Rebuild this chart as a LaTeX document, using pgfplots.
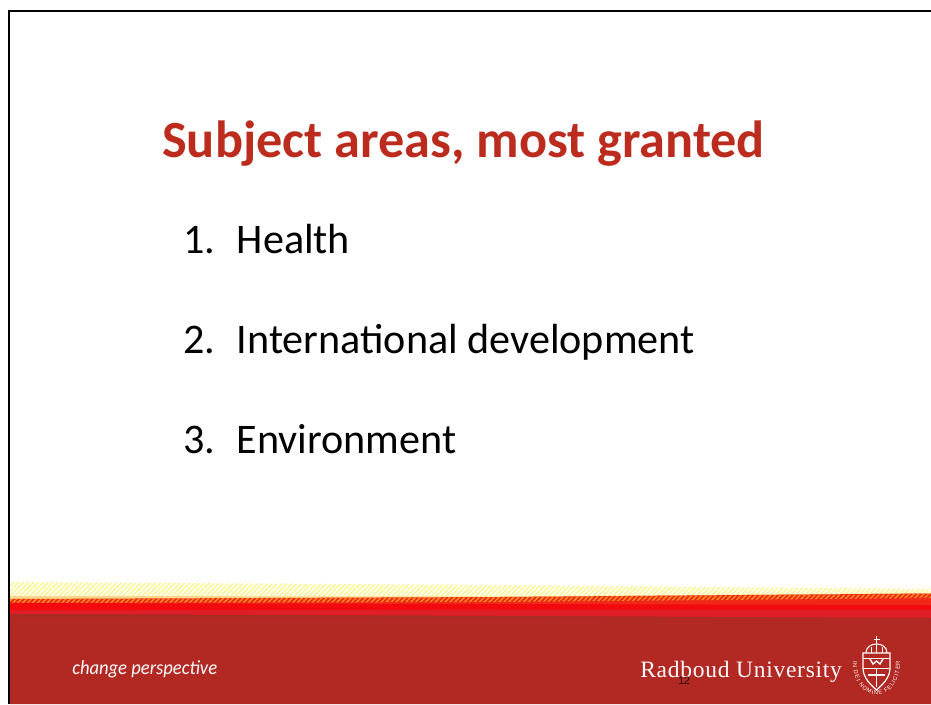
\documentclass[border=0pt]{standalone}
\usepackage{pgfplots}
\pgfplotsset{compat=1.18}
\usepackage{fontspec}
\setmainfont{Carlito}
\newfontfamily\serifuni[LetterSpace=3.2]{Liberation Serif}
\newfontfamily\mottof{Liberation Sans}
\newfontfamily\arialf{Liberation Sans}
\usetikzlibrary{patterns.meta,decorations.text}
\definecolor{footred}{HTML}{B22822}
\definecolor{footdark}{HTML}{AA2A24}
\definecolor{titlered}{HTML}{BC2C1E}
\definecolor{bandred}{HTML}{F20A0E}
\definecolor{bandor}{HTML}{F0281A}
\definecolor{bandcr}{HTML}{E01E26}
\definecolor{paleor}{HTML}{FBD58C}
\definecolor{hatchy}{HTML}{FBF58C}
\definecolor{hatchb}{HTML}{F7931E}
\begin{document}
\begin{tikzpicture}
\begin{axis}[
  width=698.25pt,height=528pt,scale only axis,
  xmin=0,xmax=931,ymin=0,ymax=704,y dir=reverse,
  hide axis,clip=true]
% page background, which also fixes the picture's extent
\fill[white] (axis cs:0,0) rectangle (axis cs:931,704);
% yellow hatched strip
\addplot[pattern={Lines[angle=45,distance=2.6pt,line width=1.1pt]},pattern color=hatchy,draw=none]
  coordinates {(10,582) (500,585) (931,589) (931,594) (500,597) (10,597)} -- cycle;
% pale line
\addplot[fill=paleor,draw=none] coordinates {(10,596) (500,596.5) (931,593) (931,595) (500,598) (10,599)} -- cycle;
% red bands
\addplot[fill=bandor,draw=none] coordinates {(10,599) (500,597) (931,593.5) (931,606) (500,606) (10,604)} -- cycle;
\addplot[pattern={Lines[angle=45,distance=2.6pt,line width=1pt]},pattern color=hatchb,draw=none]
  coordinates {(10,599) (500,597) (931,594) (931,598) (500,602) (10,603)} -- cycle;
\addplot[fill=bandred,draw=none] coordinates {(10,603) (500,604) (931,605) (931,610) (500,610) (10,611)} -- cycle;
\addplot[fill=bandcr,draw=none] coordinates {(10,610.5) (500,609.5) (931,609.5) (931,618.5) (500,616.5) (10,614.5)} -- cycle;
% footer
\addplot[fill=footred,draw=none] coordinates {(10,614) (500,616) (931,618) (931,704) (10,704)} -- cycle;
\addplot[fill=footdark,draw=none] coordinates {(10,614) (500,616) (931,618) (931,618.5) (500,618) (10,617)} -- cycle;
% frame
\addplot[black,line width=1.6pt] coordinates {(9,704) (9,11) (931,11)};
% texts
\node[anchor=base west,text=titlered,font=\fontsize{39.2pt}{46pt}\selectfont\bfseries,inner sep=0pt] at (axis cs:162,157) {Subject areas, most granted};
\node[anchor=base west,text=black,font=\fontsize{31.6pt}{38pt}\selectfont,inner sep=0pt] at (axis cs:183,253) {1.};
\node[anchor=base west,text=black,font=\fontsize{31.6pt}{38pt}\selectfont,inner sep=0pt] at (axis cs:236.5,253) {Health};
\node[anchor=base west,text=black,font=\fontsize{31.6pt}{38pt}\selectfont,inner sep=0pt] at (axis cs:183,353) {2.};
\node[anchor=base west,text=black,font=\fontsize{31.6pt}{38pt}\selectfont,inner sep=0pt] at (axis cs:236.5,353) {International development};
\node[anchor=base west,text=black,font=\fontsize{31.6pt}{38pt}\selectfont,inner sep=0pt] at (axis cs:183,453) {3.};
\node[anchor=base west,text=black,font=\fontsize{31.6pt}{38pt}\selectfont,inner sep=0pt] at (axis cs:236.5,453) {Environment};
\node[anchor=base west,text=white,font=\fontsize{15pt}{18pt}\selectfont\itshape\addfontfeature{FakeStretch=0.93},inner sep=0pt] at (axis cs:72,674) {change perspective};
\node[anchor=base west,text=white,font=\fontsize{17.6pt}{20pt}\selectfont\serifuni,inner sep=0pt] at (axis cs:640,677) {Radboud University};
\node[anchor=base west,text=black!80!footred,font=\fontsize{8pt}{10pt}\selectfont\arialf,inner sep=0pt] at (axis cs:678,684) {12};
% logo: cross
\draw[white,line width=0.9pt] (axis cs:876.5,636) -- (axis cs:876.5,644);
\draw[white,line width=0.9pt] (axis cs:873.5,639.5) -- (axis cs:879.5,639.5);
% logo: dome
\draw[white,line width=0.8pt] (axis cs:866,653) .. controls (axis cs:866,647) and (axis cs:871,644) .. (axis cs:876.5,644) .. controls (axis cs:882,644) and (axis cs:887,647) .. (axis cs:887,653);
\draw[white,line width=0.6pt] (axis cs:871,653) -- (axis cs:871,647) (axis cs:876.5,653) -- (axis cs:876.5,644) (axis cs:882,653) -- (axis cs:882,647);
% logo: shield
\draw[white,line width=0.9pt] (axis cs:863,653) -- (axis cs:890,653) -- (axis cs:890,668) .. controls (axis cs:890,678) and (axis cs:882,685) .. (axis cs:876.5,690) .. controls (axis cs:871,685) and (axis cs:863,678) .. (axis cs:863,668) -- cycle;
\draw[white,line width=0.6pt] (axis cs:863,658) -- (axis cs:890,658) (axis cs:863,668) -- (axis cs:890,668);
\draw[white,line width=1pt] (axis cs:870,659) -- (axis cs:873,664) -- (axis cs:876.5,661) -- (axis cs:880,664) -- (axis cs:883,659);
\draw[white,line width=1.4pt] (axis cs:876.5,669) -- (axis cs:876.5,687) (axis cs:868,675) -- (axis cs:885,675);
% logo: circular motto
\path[postaction={decorate,decoration={text along path,text align={fit to path},
   text={|\fontsize{4.3pt}{5pt}\selectfont\mottof\color{white}|IN DEI NOMINE FELICITER}}}]
   (axis cs:853,661) .. controls (axis cs:852,706) and (axis cs:901,706) .. (axis cs:900,661);
\end{axis}
\end{tikzpicture}
\end{document}
